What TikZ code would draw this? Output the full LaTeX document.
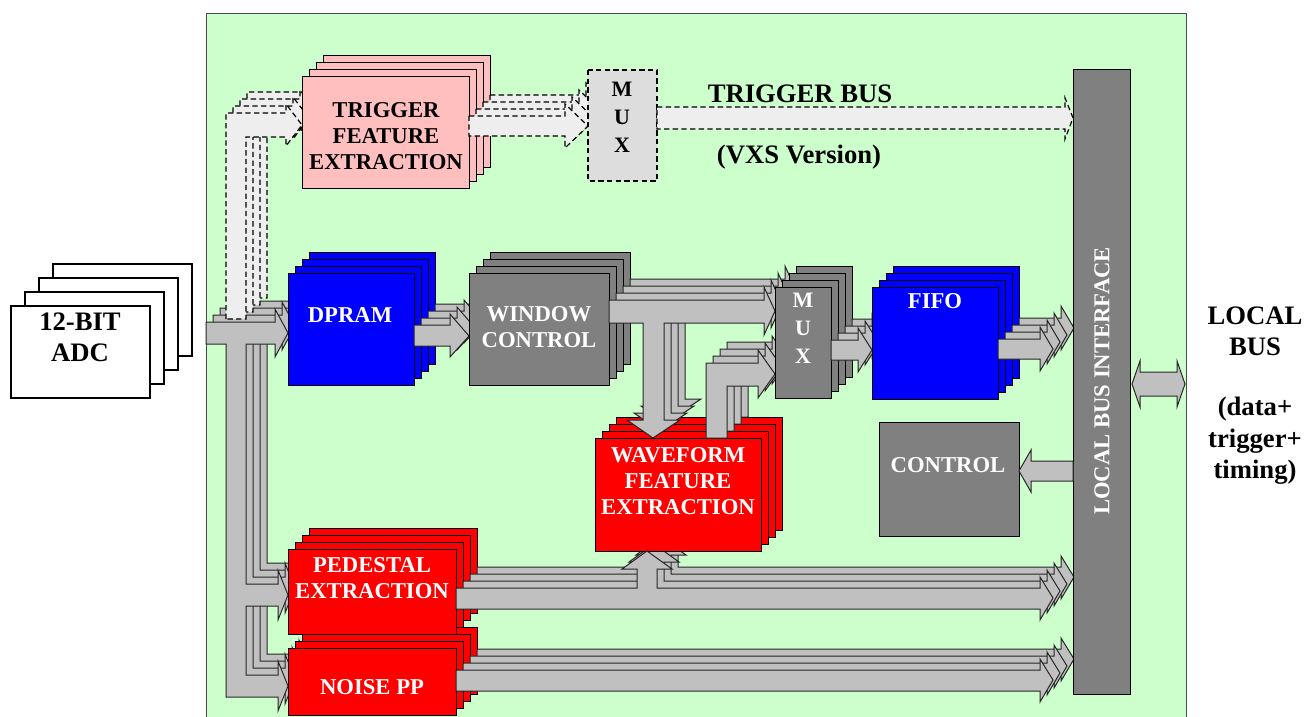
\documentclass[tikz,border=0pt]{standalone}
\usepackage{fontspec}
\setmainfont{Liberation Serif}

\definecolor{panel}{HTML}{CCFFCC}
\definecolor{pinkfe}{HTML}{FFBFBF}
\definecolor{busgray}{HTML}{C0C0C0}
\definecolor{boxgray}{HTML}{808080}
\definecolor{dashfill}{HTML}{EEEEEE}
\definecolor{muxfill}{HTML}{DDDDDD}

\tikzset{
  blk/.style={draw=black, line width=0.75pt},
  bus/.style={fill=busgray, draw=black!85, line width=0.75pt},
  tbus/.style={fill=dashfill, draw=black, line width=0.9pt, dash pattern=on 4pt off 2.5pt},
  boxtext/.style={font=\fontsize{17}{19.5}\selectfont\bfseries, align=center, text=white, inner sep=0pt},
  muxtext/.style={font=\fontsize{16.5}{21}\selectfont\bfseries, align=center, inner sep=0pt},
  bigtext/.style={font=\fontsize{20}{23.5}\selectfont\bfseries, align=center, inner sep=0pt},
}

% one processing channel: boxes and buses, drawn once per stacked copy
\newcommand\channel{%
  % ADC input bus branching to DPRAM, pedestal and noise
  \path[bus] (206,322) -- (275,322) -- (275,309) -- (288,333) -- (275,357) -- (275,344)
    -- (246,344) -- (246,584) -- (278,584) -- (278,570) -- (288,595) -- (278,620) -- (278,606)
    -- (246,606) -- (246,675) -- (278,675) -- (278,661) -- (288,686) -- (278,711) -- (278,697)
    -- (226,697) -- (226,344) -- (206,344) -- cycle;
  % trigger path (dashed)
  \path[tbus] (226,319) -- (226,113) -- (286,113) -- (286,104) -- (302,125) -- (286,146)
    -- (286,137) -- (246,137) -- (246,319) -- cycle;
  \path[blk, fill=pinkfe] (302,77) rectangle (469,188);
  \path[tbus] (469,116) -- (565,116) -- (565,104) -- (588,126) -- (565,148) -- (565,136)
    -- (469,136) -- cycle;
  % DPRAM and window control
  \path[blk, fill=blue] (288,273) rectangle (414,385);
  \path[bus] (414,325) -- (450,325) -- (450,314) -- (469,336) -- (450,357) -- (450,346)
    -- (414,346) -- cycle;
  \path[blk, fill=boxgray] (469,273) rectangle (609,385);
  % pedestal and noise
  \path[blk, fill=red] (288,549) rectangle (456,634);
  \path[blk, fill=red] (288,648) rectangle (456,715);
  % waveform feature extraction
  \path[blk, fill=red] (595,438) rectangle (761,551);
  \path[bus] (609,300) -- (764,300) -- (764,287) -- (775,311) -- (764,335) -- (764,323)
    -- (664,323) -- (664,420) -- (680,420) -- (653,438) -- (627,420) -- (643,420)
    -- (643,323) -- (609,323) -- cycle;
  \path[bus] (706,438) -- (706,363) -- (758,363) -- (758,350) -- (775,374) -- (758,398)
    -- (758,386) -- (727,386) -- (727,438) -- cycle;
  % readout mux and FIFO
  \path[blk, fill=boxgray] (775,287) rectangle (831,398);
  \path[bus] (831,340) -- (858,340) -- (858,328) -- (872,350) -- (858,372) -- (858,360)
    -- (831,360) -- cycle;
  \path[blk, fill=blue] (872,287) rectangle (998,399);
  \path[bus] (998,339) -- (1040,339) -- (1040,327) -- (1053,349) -- (1040,371) -- (1040,359)
    -- (998,359) -- cycle;
  % pedestal bus with branch up into waveform extraction
  \path[bus] (456,588) -- (637,588) -- (637,569) -- (622,569) -- (647,551) -- (672,569)
    -- (657,569) -- (657,588) -- (1040,588) -- (1040,577) -- (1053,598) -- (1040,620)
    -- (1040,609) -- (456,609) -- cycle;
  % noise bus
  \path[bus] (456,670) -- (1040,670) -- (1040,659) -- (1053,680) -- (1040,702) -- (1040,691)
    -- (456,691) -- cycle;
}

\begin{document}
\begin{tikzpicture}[x=0.75pt, y=-0.75pt]
\useasboundingbox (0,0) rectangle (1304,717);
\clip (0,0) rectangle (1304,717);

% module board
\path[fill=panel, draw=black!70, line width=0.75pt] (206,14) rectangle (1186,740);

% ADC cards
\foreach \k in {3,2,1,0}
  \path[blk, fill=white, line width=1pt] ({11+14*\k},{306-14*\k}) rectangle ({150+14*\k},{398-14*\k});
\node[bigtext] (adc) at (80,337) {12-BIT\\ADC};

% four stacked channels, back to front
\foreach \k in {3,2,1,0} {
  \begin{scope}[shift={(7*\k,-7*\k)}]
    \channel
  \end{scope}
}

% trigger mux and trigger bus
\path[tbus, fill=muxfill] (588,70) rectangle (657,181);
\path[tbus] (657,107) -- (1065,107) -- (1065,98) -- (1073,118) -- (1065,139) -- (1065,129)
  -- (657,129) -- cycle;

% local bus interface, control
\path[blk, fill=boxgray] (1073,70) rectangle (1130,694);
\path[blk, fill=boxgray] (879,422) rectangle (1019,536);
\path[bus] (1073,461) -- (1031,461) -- (1031,450) -- (1019,471) -- (1031,492) -- (1031,481)
  -- (1073,481) -- cycle;
\path[bus] (1140,372) -- (1177,372) -- (1177,361) -- (1185,384) -- (1177,407) -- (1177,396)
  -- (1140,396) -- (1140,407) -- (1132,384) -- (1140,361) -- cycle;

% labels
\node[boxtext, text=black] (tfe) at (386,136) {TRIGGER\\FEATURE\\EXTRACTION};
\node[muxtext, text=black] (tmux) at (622,117) {M\\U\\X};
\node[bigtext] (tbus) at (800,94) {TRIGGER BUS};
\node[bigtext] (vxs) at (799,157) {(VXS Version)};
\node[boxtext] (dpram) at (350,315) {DPRAM};
\node[boxtext] (wc) at (539,327) {WINDOW\\CONTROL};
\node[muxtext, text=white] (mux) at (803,328) {M\\U\\X};
\node[boxtext] (fifo) at (935,301) {FIFO};
\node[boxtext] (wfe) at (678,481) {WAVEFORM\\FEATURE\\EXTRACTION};
\node[boxtext] (ped) at (372,578) {PEDESTAL\\EXTRACTION};
\node[boxtext] (noise) at (372,687) {NOISE PP};
\node[boxtext] (ctrl) at (948,465) {CONTROL};
\node[boxtext, rotate=90] (lbi) at (1102,381) {LOCAL BUS INTERFACE};
\node[bigtext] (lbus) at (1255,331) {LOCAL\\BUS};
\node[bigtext] (lbusinfo) at (1255,441) {(data+\\trigger+\\timing)};
\end{tikzpicture}
\end{document}
